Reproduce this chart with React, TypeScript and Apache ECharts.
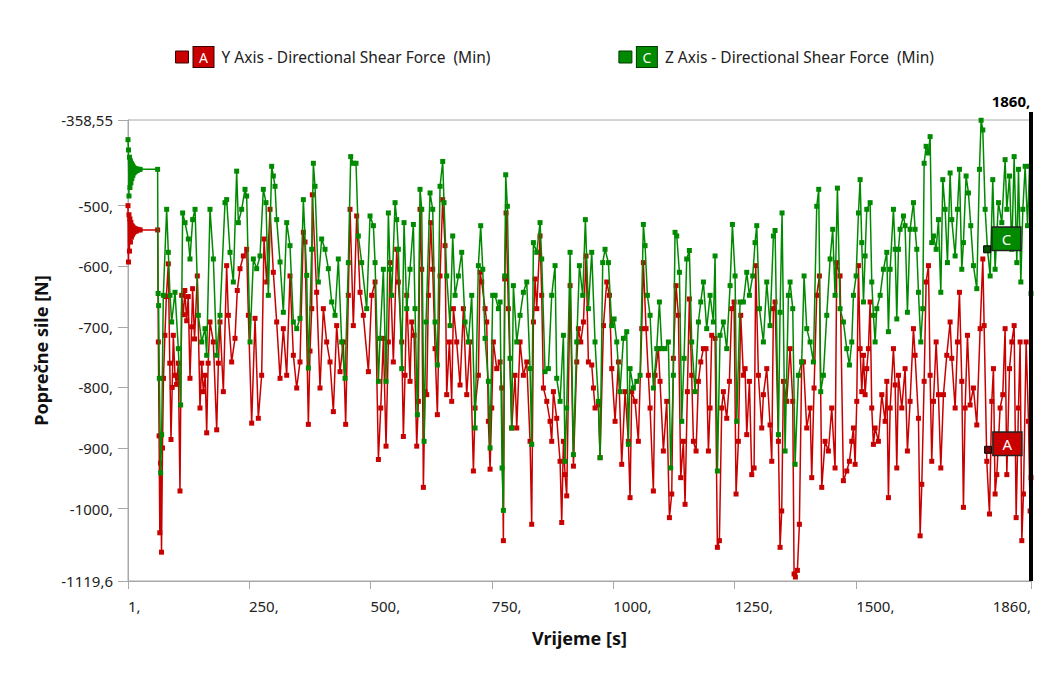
import React, { useEffect, useRef } from "react";
import * as echarts from "echarts";

const Y_NAME = "Y Axis - Directional Shear Force  (Min)";
const Z_NAME = "Z Axis - Directional Shear Force  (Min)";
const RED = "#c80000";
const GREEN = "#008a00";

const yTicks = [-1119.6, -1000, -900, -800, -700, -600, -500, -358.55];
const xTicks = [1, 250, 500, 750, 1000, 1250, 1500, 1860];

// Y axis (A) minimum shear force [time s, force N]
const forceY: [number, number][] = [
  [1,-500],[2,-593],[3,-515],[4,-575],[5,-522],[6,-560],[7,-528],[8,-552],[9,-533],[10,-548],[11,-535],[12,-545],[13,-537],[14,-543],[16,-538],[18,-542],[20,-539],[23,-540],[26,-540],[62,-540],
  [63.5,-725],[65,-880],[66.5,-1040],[68,-925],[70,-1072],[72,-900],[74,-785],[77,-714],[80,-650],[84,-596],[87,-760],[89.5,-886],[92,-800],[94.3,-714],[97.8,-780],[101,-795],[104.6,-760],[108,-971],[111.5,-648],[115,-680],[118,-640],[121.8,-690],[125,-650],[128.6,-785],[132,-700],[134,-637],[138,-720],[143.7,-616],[149.2,-834],[152.7,-760],[156.1,-807],[160,-780],[163,-875],[166,-760],[169.8,-692],[176.7,-725],[183.6,-870],[187,-760],[190.4,-692],[197.3,-807],[204.1,-599],[207.6,-681],[214.4,-758],[221.3,-719],[226,-640],[231.6,-604],[238.5,-583],[245.3,-572],[248.8,-681],[255.6,-859],[262.5,-686],[269.3,-851],[276.2,-780],[281,-555],[286.5,-626],[293.4,-506],[300.2,-610],[307.1,-692],[314,-785],[320.8,-703],[327.7,-780],[334.5,-616],[341.4,-747],[348.3,-801],[355.1,-758],[362,-544],[365.4,-560],[372.3,-861],[375.7,-740],[379.2,-670],[380.5,-482],[389.4,-643],[396.3,-801],[403.2,-670],[410,-725],[416.9,-758],[423.8,-840],[430.6,-698],[437.5,-774],[444.3,-725],[449.1,-861],[454.6,-648],[458.1,-506],[464.9,-698],[471.8,-517],[478.7,-643],[485.5,-681],
  [495.9,-774],[502.7,-648],[509.6,-626],[516.5,-919],[521.3,-834],[526.7,-719],[532.2,-897],[537,-725],[540.5,-594],[547.3,-758],[554.2,-572],[557.6,-626],[564.5,-725],[567.9,-881],[571.3,-780],[574.8,-648],[581.6,-790],[585.1,-692],[589.9,-714],[595.4,-897],[598.8,-823],[602.2,-506],[605.7,-605],[609.1,-965],[612.5,-807],[616,-812],[619.4,-648],[624.2,-528],[628.3,-605],[633.1,-736],[637.9,-845],[643.4,-616],[648.9,-490],[653.7,-566],[657.1,-812],[662.6,-725],[667.4,-823],[670.9,-670],[677.7,-725],[684.6,-796],[691.5,-670],[698.3,-812],[705.2,-725],[712.1,-938],[715.5,-834],[722.3,-780],[725.8,-610],[729.2,-626],[736.1,-670],[739.5,-692],[742.9,-856],[746.4,-935],[749.8,-834],[753.2,-725],[760.1,-769],[767,-758],[770.4,-801],[773.8,-1053],[776.6,-621],[779.3,-512],[784.1,-670],[791,-867],[797.8,-780],[801.3,-867],[808.1,-725],[815,-780],[821.9,-758],[828.7,-889],[832.1,-1026],[835.6,-692],[839,-621],[842.5,-670],[849.3,-550],[852.7,-648],[856.2,-801],[863.1,-823],[869.9,-856],[873.3,-889],[876.8,-807],[883.6,-851],[890.5,-922],[893.9,-1023],[897.4,-889],[900.8,-944],[904.2,-979],[911.1,-632],[918,-930],[924.8,-758],[928.2,-703],[933.1,-725],[938.6,-692],[944,-583],[948.8,-758],[955.7,-763],[959.2,-801],[962.5,-834],[969.4,-829],[972.9,-916],[979.8,-698],[986.6,-626],[992.1,-648],[996.9,-769],[1003.7,-856],[1010.6,-758],
  [1017.4,-927],[1024.3,-807],[1031.1,-889],[1034.6,-982],[1038,-807],[1044.9,-823],[1051.7,-889],[1058.6,-703],[1062,-594],[1067.5,-703],[1072.3,-780],[1075.8,-834],[1082.6,-971],[1086.1,-780],[1092.9,-736],[1096.3,-790],[1103.2,-905],[1110.1,-823],[1115.6,-1015],[1120.4,-976],[1123.8,-752],[1129.3,-632],[1134.1,-681],[1138.9,-949],[1144.4,-889],[1147.8,-993],[1152.6,-807],[1156.7,-654],[1161.5,-780],[1165,-889],[1170.5,-905],[1175.3,-790],[1180.1,-758],[1185.6,-736],[1191,-736],[1195.9,-905],[1199.3,-834],[1202.7,-714],[1209.6,-719],[1214.4,-1064],[1218.5,-1053],[1223.3,-834],[1226.7,-807],[1233.6,-851],[1239.1,-790],[1243.9,-670],[1248.7,-659],[1252.8,-976],[1257.6,-889],[1262.4,-681],[1267.9,-780],[1271.4,-769],[1274.8,-878],[1280.3,-790],[1285.1,-944],[1289.9,-933],[1293.3,-599],[1298.8,-780],[1305.7,-867],[1309.1,-812],[1316,-769],[1322.8,-862],[1326.3,-922],[1329.7,-670],[1333.1,-659],[1340,-889],[1343.4,-1064],[1346.8,-1004],[1350.3,-790],[1357.1,-823],[1364,-736],[1369.5,-823],[1372.2,-1108],[1375,-1113],[1379.1,-1102],[1383.2,-1026],[1388,-758],[1391.5,-758],[1398.3,-867],[1405.2,-834],[1408.6,-949],[1413.4,-801],[1418.9,-648],[1424.4,-616],[1429.2,-965],[1436.1,-889],[1442.9,-905],[1449.8,-834],[1456.6,-933],[1460.1,-594],[1466.9,-616],[1473.8,-954],[1480.7,-938],[1486.2,-922],
  [1491,-889],[1494.5,-867],[1497.9,-927],[1501.3,-823],[1504.8,-599],[1508.2,-736],[1511.6,-807],[1515.1,-747],[1518.5,-812],[1521.9,-769],[1525.3,-736],[1528.8,-659],[1532.2,-834],[1535.6,-894],[1539.1,-867],[1545.9,-889],[1552.8,-812],[1559.7,-856],[1563.1,-790],[1566.5,-982],[1570,-834],[1576.8,-736],[1580.3,-796],[1583.7,-933],[1587.1,-780],[1594,-834],[1600.8,-769],[1605.6,-905],[1611.1,-823],[1618,-703],[1621.4,-747],[1628.3,-851],[1631.7,-1045],[1635.2,-960],[1640,-790],[1644.1,-626],[1648.9,-599],[1652.3,-780],[1655.7,-922],[1659.2,-823],[1664.7,-725],[1669.5,-812],[1674.3,-933],[1679.8,-812],[1686.6,-747],[1693.5,-692],[1696.9,-752],[1703.8,-834],[1708.6,-725],[1712.7,-643],[1717.5,-790],[1720.9,-998],[1724.4,-834],[1729.2,-714],[1734.7,-829],[1741.5,-801],[1748.4,-862],[1755.3,-703],[1760.8,-588],[1763.5,-698],[1769,-922],[1774.5,-1009],[1779.3,-823],[1782.7,-769],[1786.1,-976],[1789.6,-944],[1796.4,-834],[1801.9,-812],[1806.7,-703],[1810.2,-944],[1815.7,-769],[1820.5,-725],[1825.3,-698],[1829.4,-1015],[1834.2,-834],[1837.6,-725],[1841.1,-1053],[1844.5,-976],[1850,-725],[1854.8,-856],[1858.2,-1004],[1860,-949]
];

// Z axis (C) minimum shear force [time s, force N]
const forceZ: [number, number][] = [
  [1,-391],[2,-408],[3,-484],[4,-420],[5,-470],[6,-426],[7,-462],[8,-430],[9,-455],[10,-433],[11,-450],[12,-436],[13,-446],[14,-438],[16,-444],[18,-439],[20,-442],[23,-440],[26,-440],[62,-440],
  [63,-645],[64,-665],[65.5,-785],[68.3,-941],[70.3,-878],[73.7,-648],[80.6,-506],[84,-577],[87.5,-648],[90.9,-692],[97.8,-643],[104.6,-736],[109.4,-829],[113.5,-512],[118.4,-528],[125.2,-555],[128.6,-588],[134.1,-523],[139,-506],[145.8,-681],[152.7,-725],[159.5,-703],[163,-747],[169.8,-506],[176.7,-588],[183.6,-747],[190.4,-681],[200.7,-495],[204.1,-490],[211,-577],[217.9,-626],[224.7,-443],[228.2,-528],[235,-506],[241.9,-473],[245.3,-484],[252.2,-725],[259.1,-588],[265.9,-604],[272.8,-583],[279.6,-473],[285.1,-495],[289.9,-648],[296.8,-435],[300.2,-451],[303.7,-468],[307.1,-523],[314,-593],[320.8,-676],[327.7,-528],[334.5,-566],[341.4,-692],[348.3,-703],[355.1,-686],[362,-490],[368.9,-615],[372.3,-768],[379.2,-572],[382.6,-430],[386,-468],[392.9,-626],[399.7,-555],[406.6,-572],[413.5,-604],[420.3,-659],[427.2,-681],[434,-588],[440.9,-725],[447.8,-785],[454.6,-594],[459.5,-419],[464.9,-430],[470.4,-430],[475.2,-550],[482.1,-594],
  [492.4,-670],[499.3,-517],[506.2,-533],[509.6,-594],[516.5,-790],[519.9,-719],[526.7,-605],[532.2,-790],[537,-512],[540.5,-605],[543.9,-648],[550.8,-495],[554.2,-523],[557.6,-572],[564.5,-769],[569.3,-528],[574.8,-670],[581.6,-605],[588.5,-531],[591.9,-670],[596.7,-845],[602.2,-473],[605.7,-506],[610.5,-889],[614.6,-692],[622.8,-479],[628.3,-506],[633.1,-692],[637.9,-763],[643.4,-468],[648.9,-427],[651.6,-495],[657.1,-616],[664,-698],[669.5,-550],[674.3,-648],[681.2,-616],[688,-577],[694.9,-692],[701.8,-725],[708.6,-648],[715.5,-867],[722.3,-599],[727.1,-533],[731.3,-605],[736.1,-719],[742.9,-790],[746.4,-900],[751.8,-648],[756.7,-648],[763.5,-670],[767,-659],[771.1,-933],[773.8,-1003],[776.6,-616],[778.6,-449],[782,-501],[787.5,-752],[791,-867],[794.4,-632],[801.3,-725],[808.1,-681],[815,-643],[821.9,-626],[828.7,-769],[832.1,-894],[835.6,-561],[842.5,-577],[849.3,-528],[852.7,-588],[859.6,-774],[866.5,-769],[873.3,-648],[880.2,-599],[883.6,-785],[890.5,-823],[897.4,-714],[900.8,-922],[904.2,-834],[911.1,-577],[918,-911],[924.8,-725],[930.3,-599],[937.2,-648],[942.6,-523],[948.8,-670],[955.7,-577],[962.5,-725],[969.4,-823],[972.9,-916],[978.3,-594],[983.1,-572],[990,-594],[996.9,-698],[1001.7,-687],[1007.2,-725],
  [1014,-807],[1020.9,-719],[1027.7,-708],[1031.1,-894],[1034.6,-769],[1041.4,-801],[1048.3,-790],[1055.2,-780],[1062,-531],[1065.5,-566],[1070.3,-648],[1075.8,-681],[1082.6,-801],[1089.5,-736],[1095,-659],[1099.8,-736],[1106.6,-736],[1113.5,-725],[1118.3,-933],[1123.8,-780],[1127.2,-544],[1130.7,-550],[1136.2,-610],[1141,-856],[1145.8,-752],[1151.2,-588],[1156.7,-574],[1161.5,-725],[1168.4,-807],[1175.3,-692],[1180.1,-659],[1185.6,-626],[1192.4,-703],[1199.3,-648],[1206.2,-692],[1209.6,-583],[1214.4,-938],[1219.9,-714],[1226.7,-692],[1233.6,-736],[1240.5,-632],[1245.3,-531],[1250.8,-616],[1254.2,-856],[1261.1,-659],[1267.9,-659],[1274.8,-610],[1280.3,-648],[1287.1,-616],[1291.9,-561],[1295.4,-533],[1300.9,-670],[1309.1,-725],[1316,-626],[1322.8,-698],[1329.7,-550],[1333.1,-541],[1340,-878],[1343.4,-676],[1347.5,-512],[1353.7,-905],[1360.6,-648],[1364,-626],[1369.5,-670],[1374.3,-927],[1381.2,-780],[1388,-758],[1392.8,-616],[1398.3,-703],[1405.2,-725],[1412,-758],[1418.9,-501],[1423,-473],[1427.1,-807],[1432.6,-780],[1439.5,-681],[1446.4,-588],[1451.8,-539],[1456.6,-648],[1461.5,-471],[1466.9,-670],[1473.8,-692],[1480.7,-736],[1486.2,-763],
  [1491,-725],[1494.5,-648],[1500,-616],[1504.8,-512],[1508.2,-457],[1511.6,-561],[1515.1,-659],[1518.5,-583],[1521.9,-506],[1528.8,-495],[1532.2,-626],[1535.6,-681],[1539.1,-725],[1542.5,-670],[1549.4,-648],[1556.2,-605],[1563.1,-577],[1566.5,-708],[1570,-605],[1576.8,-506],[1580.3,-572],[1583.7,-687],[1587.1,-572],[1590.5,-539],[1597.4,-517],[1600.8,-533],[1605.6,-676],[1611.1,-539],[1618,-495],[1621.4,-539],[1624.9,-572],[1628.3,-643],[1633.1,-725],[1637.2,-670],[1640,-430],[1644.1,-402],[1648.9,-413],[1652.3,-386],[1655.7,-561],[1659.2,-550],[1664.7,-572],[1669.5,-523],[1674.3,-643],[1678.4,-457],[1683.2,-506],[1688,-594],[1693.5,-446],[1696.9,-523],[1703.8,-583],[1708.6,-506],[1712.7,-440],[1717.5,-605],[1720.9,-561],[1726.4,-451],[1731.2,-479],[1736,-533],[1741.5,-599],[1748.4,-637],[1753.9,-440],[1757.3,-359],[1760.8,-375],[1765.6,-506],[1770.4,-572],[1775.9,-616],[1781.3,-457],[1786.1,-605],[1793,-495],[1799.9,-528],[1806.7,-424],[1810.2,-506],[1815.7,-451],[1820.5,-572],[1825.3,-419],[1830.8,-594],[1834.2,-440],[1839.1,-626],[1843.2,-506],[1848,-435],[1852.9,-533],[1857,-435],[1860,-645]
];

// Tag points (label boxes) on each curve
const tagA: [number, number] = [1771.7, -903];
const tagC: [number, number] = [1769.7, -572];
const cursorTime = 1860;

const fmt = (v: number) => {
  const r = Math.round(v * 100) / 100;
  const s = String(r).replace(".", ",");
  return Number.isInteger(r) ? s + "," : s;
};

const tagLabel = (letter: string, color: string, dy: number) => ({
  show: true,
  formatter: letter,
  position: [9.5, dy],
  align: "left",
  verticalAlign: "top",
  color: "#fff",
  fontSize: 15,
  fontFamily: "Noto Sans",
  backgroundColor: color,
  borderColor: "#222",
  borderWidth: 1.5,
  padding: [4, 9, 3, 9],
});

export default function App() {
  const ref = useRef<HTMLDivElement>(null);
  useEffect(() => {
    document.body.style.margin = "0";
    const chart = echarts.init(ref.current!, null, { renderer: "svg" });
    const option: any = {
      animation: false,
      textStyle: { fontFamily: "Noto Sans" },
      grid: { left: 128, right: 21, top: 120, bottom: 94, show: true, borderColor: "#a8a8a8", borderWidth: 1 },
      legend: {
        left: 170,
        top: 41,
        itemWidth: 13,
        itemHeight: 12,
        itemGap: 128,
        icon: "rect",
        data: [
          { name: Y_NAME, itemStyle: { color: RED, borderColor: "#3a0000", borderWidth: 1 } },
          { name: Z_NAME, itemStyle: { color: GREEN, borderColor: "#003a00", borderWidth: 1 } },
        ],
        formatter: (name: string) => (name === Y_NAME ? `{a|A}{n|${name}}` : `{c|C}{n|${name}}`),
        textStyle: {
          rich: {
            a: { backgroundColor: RED, borderColor: "#3a0000", borderWidth: 1, color: "#fff", width: 20, height: 20, align: "center", fontSize: 14, lineHeight: 20 },
            c: { backgroundColor: GREEN, borderColor: "#003a00", borderWidth: 1, color: "#fff", width: 20, height: 20, align: "center", fontSize: 14, lineHeight: 20 },
            n: { fontSize: 15.5, color: "#222", padding: [0, 0, 0, 8] },
          },
        },
      },
      graphic: [
        { type: "rect", shape: { x: 1029, y: 112, width: 4, height: 9 }, style: { fill: "#000" }, silent: true },
      ],
      xAxis: {
        type: "value",
        min: 1,
        max: 1860,
        name: "Vrijeme [s]",
        nameLocation: "middle",
        nameGap: 48,
        nameTextStyle: { fontWeight: "bold", fontSize: 18, color: "#111" },
        axisLine: { show: true, lineStyle: { color: "#a8a8a8" } },
        axisTick: { show: true, length: 8, customValues: xTicks, lineStyle: { color: "#a8a8a8" } },
        axisLabel: { customValues: xTicks, formatter: fmt, fontSize: 15, color: "#222", margin: 17, align: "left", alignMaxLabel: "right" },
        splitLine: { show: false },
      },
      yAxis: {
        type: "value",
        min: -1119.6,
        max: -358.55,
        name: "Poprečne sile [N]",
        nameLocation: "middle",
        nameGap: 70,
        nameTextStyle: { fontWeight: "bold", fontSize: 18, color: "#111" },
        axisLine: { show: true, lineStyle: { color: "#a8a8a8" } },
        axisTick: { show: true, length: 10, customValues: yTicks, lineStyle: { color: "#a8a8a8" } },
        axisLabel: { customValues: yTicks, formatter: fmt, fontSize: 15, color: "#222", margin: 15 },
        splitLine: { show: false },
      },
      series: [
        {
          type: "line",
          name: Y_NAME,
          data: forceY,
          symbol: "rect",
          symbolSize: 5,
          lineStyle: { width: 1.5, color: RED },
          itemStyle: { color: RED },
          z: 2,
          markPoint: {
            silent: true,
            data: [
              {
                coord: tagA,
                symbol: "rect",
                symbolSize: 7,
                itemStyle: { color: "#7a0000", borderColor: "#000", borderWidth: 1 },
                label: tagLabel("A", RED, -13),
              },
            ],
          },
        },
        {
          type: "line",
          name: Z_NAME,
          data: forceZ,
          symbol: "rect",
          symbolSize: 5,
          lineStyle: { width: 1.5, color: GREEN },
          itemStyle: { color: GREEN },
          z: 3,
          markPoint: {
            silent: true,
            data: [
              {
                coord: tagC,
                symbol: "rect",
                symbolSize: 7,
                itemStyle: { color: "#005000", borderColor: "#000", borderWidth: 1 },
                label: tagLabel("C", GREEN, -17.5),
              },
            ],
          },
          markLine: {
            silent: true,
            symbol: "none",
            lineStyle: { color: "#000", width: 4, type: "solid" },
            label: {
              show: true,
              position: "end",
              formatter: "1860,",
              fontWeight: "bold",
              fontSize: 15,
              color: "#000",
              distance: 12,
              padding: [0, 40, 0, 0],
            },
            data: [{ xAxis: cursorTime }],
          },
        },
      ],
    };
    chart.setOption(option);
    return () => chart.dispose();
  }, []);
  return <div ref={ref} style={{ width: 1052, height: 675 }} />;
}
